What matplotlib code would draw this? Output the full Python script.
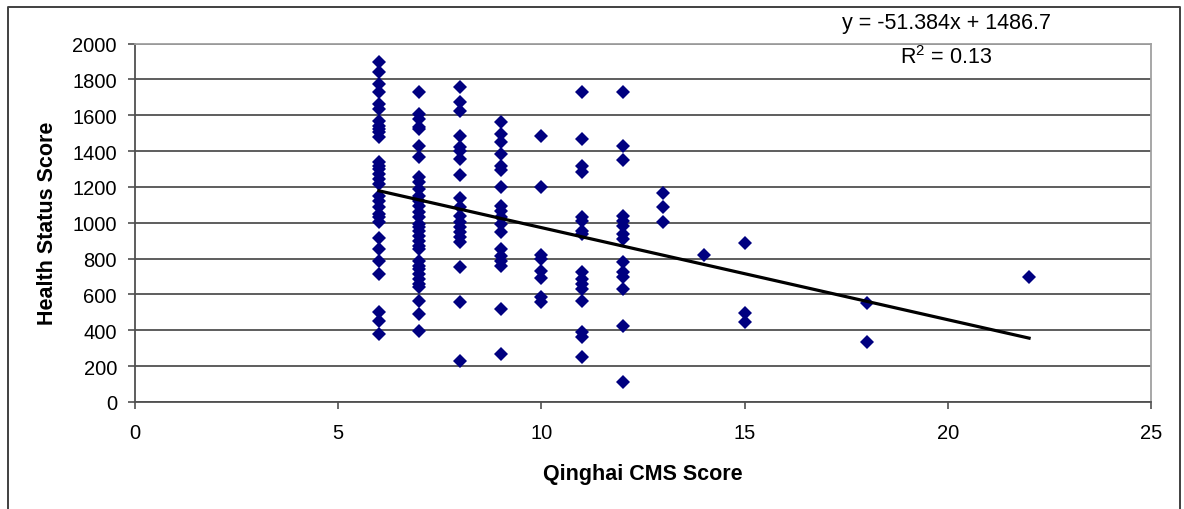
import numpy as np
import matplotlib
matplotlib.use("Agg")
import matplotlib.pyplot as plt
from matplotlib.lines import Line2D

plt.rcParams["font.family"] = ["Liberation Sans", "DejaVu Sans"]
plt.rcParams["mathtext.fontset"] = "custom"
plt.rcParams["mathtext.rm"] = "Liberation Sans"
plt.rcParams["mathtext.it"] = "Liberation Sans:italic"

# health status scores grouped by Qinghai CMS score
hs_6 = [1898, 1842, 1773, 1727, 1662, 1634, 1569, 1541, 1523, 1504, 1476, 1337, 1318,
        1300, 1272, 1244, 1216, 1151, 1123, 1086, 1049, 1030, 1002, 913, 853, 788, 714,
        500, 453, 379]
hs_7 = [1731, 1606, 1578, 1532, 1523, 1430, 1365, 1253, 1225, 1188, 1151, 1123, 1095,
        1058, 1030, 993, 974, 956, 928, 900, 872, 853, 788, 760, 742, 714, 686, 658, 640,
        565, 491, 398]
hs_8 = [1755, 1671, 1625, 1485, 1420, 1402, 1355, 1266, 1136, 1086, 1039, 1002, 974,
        946, 918, 891, 751, 556, 230]
hs_9 = [1560, 1495, 1448, 1383, 1318, 1296, 1197, 1095, 1067, 1030, 993, 946, 853, 816,
        788, 760, 519, 268]
hs_10 = [1485, 1197, 820, 797, 733, 690, 584, 560]
hs_11 = [1731, 1467, 1314, 1281, 1030, 1011, 956, 937, 723, 686, 658, 630, 565, 389,
         361, 249]
hs_12 = [1731, 1430, 1352, 1039, 1011, 983, 937, 909, 783, 723, 695, 630, 422, 113]
hs_13 = [1164, 1086, 1002]
hs_14 = [820]
hs_15 = [885, 496, 444]
hs_18 = [552, 333]
hs_22 = [695]

cms_levels = [6, 7, 8, 9, 10, 11, 12, 13, 14, 15, 18, 22]
groups = [hs_6, hs_7, hs_8, hs_9, hs_10, hs_11, hs_12, hs_13, hs_14, hs_15, hs_18, hs_22]

slope = -51.384
intercept = 1486.7
r_squared = 0.13

cms = np.concatenate([[lvl] * len(g) for lvl, g in zip(cms_levels, groups)])
health = np.concatenate(groups)

fig = plt.figure(figsize=(11.84, 5.10), dpi=100)
ax = fig.add_axes([135 / 1184, 107 / 510, 1016 / 1184, 358.5 / 510])

ax.plot(cms, health, linestyle="none", marker="D", markersize=6.8,
        color="#000080", markeredgewidth=0, zorder=3)

fit_x = np.array([cms.min(), cms.max()])
ax.plot(fit_x, slope * fit_x + intercept, color="black", linewidth=2.3, zorder=4)

ax.set_xlim(0, 25)
ax.set_ylim(0, 2000)
ax.set_xticks(np.arange(0, 26, 5))
ax.set_yticks(np.arange(0, 2001, 200))
ax.yaxis.grid(True, color="#505050", linewidth=1.3)
ax.set_axisbelow(True)

for side in ["left", "bottom"]:
    ax.spines[side].set_color("#505050")
    ax.spines[side].set_linewidth(1.3)
for side in ["top", "right"]:
    ax.spines[side].set_color("#a0a0a0")
    ax.spines[side].set_linewidth(1.3)

ax.tick_params(axis="both", direction="out", length=5, width=1.2, color="#505050",
               labelsize=14.5)
ax.tick_params(axis="y", pad=8)
ax.tick_params(axis="x", pad=10)

ax.set_xlabel("Qinghai CMS Score", fontsize=15.5, fontweight="bold", labelpad=15)
ax.set_ylabel("Health Status Score", fontsize=15.5, fontweight="bold", labelpad=10)

fig.text(946 / 1184, 1 - 23 / 510, f"y = {slope}x + {intercept}", fontsize=15.5,
         ha="center", va="center")
fig.text(946 / 1184, 1 - 58 / 510, f"R$^2$ = {r_squared}", fontsize=15.5,
         ha="center", va="center")

# outer chart frame (open at the bottom)
fx = [8 / 1184, 8 / 1184, 1180 / 1184, 1180 / 1184]
fy = [0, 1 - 8 / 510, 1 - 8 / 510, 0]
fig.add_artist(Line2D(fx, fy, transform=fig.transFigure, color="#404040", linewidth=1.4))

fig.savefig("out.png", dpi=100)
